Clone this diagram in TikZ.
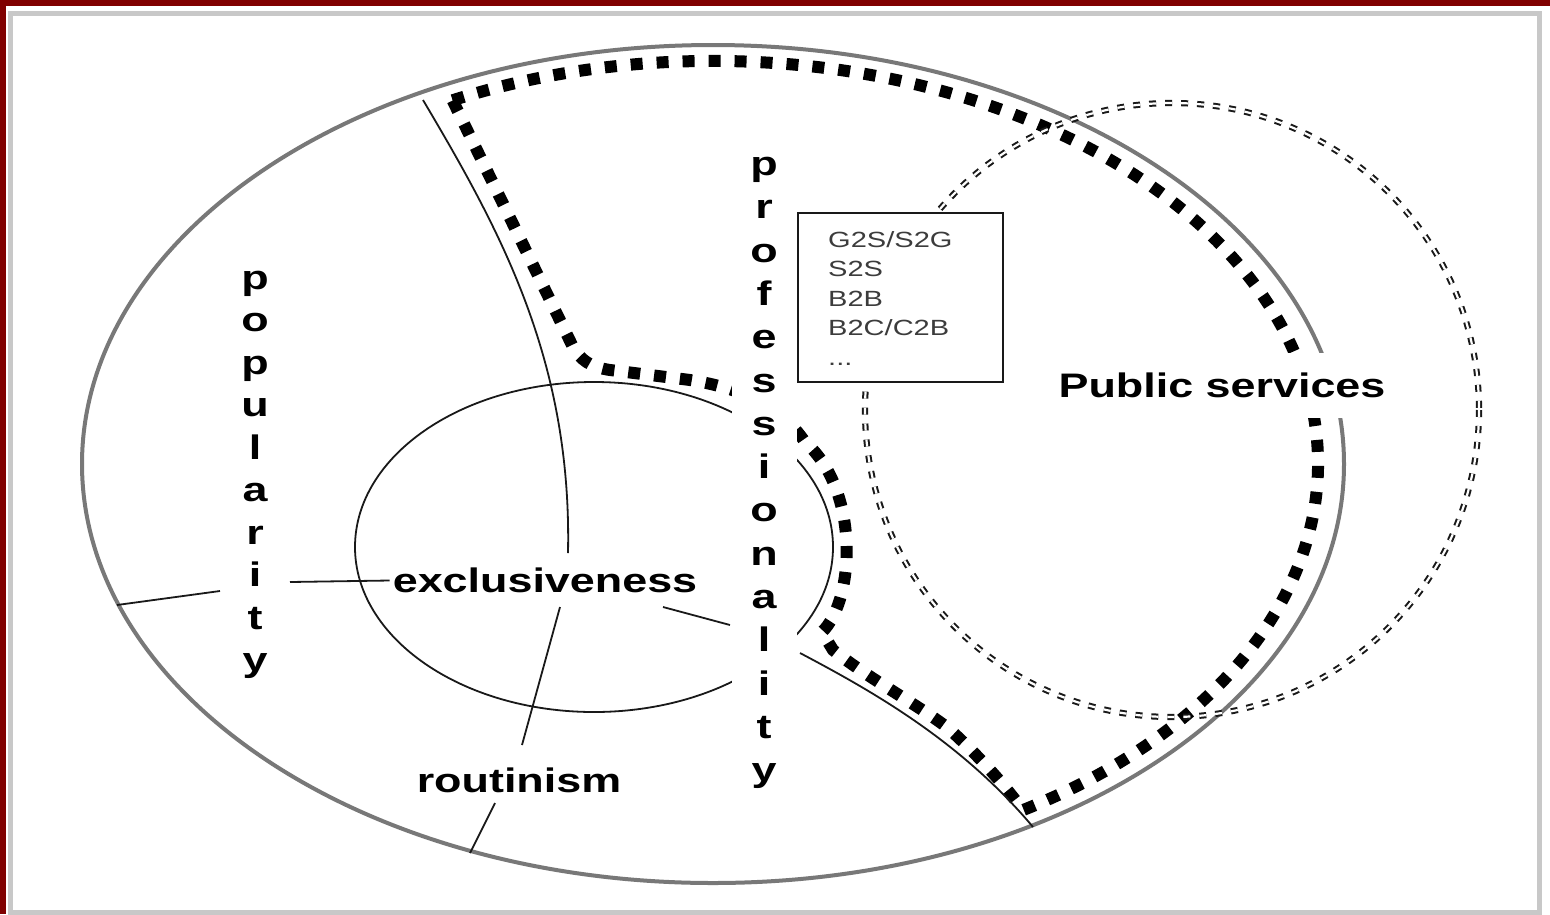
\documentclass[tikz,border=0pt]{standalone}
\usepackage{fontspec}
\newfontfamily\labfont[FakeStretch=1.32]{Liberation Sans}
\definecolor{framered}{RGB}{128,0,0}
\definecolor{ellgray}{RGB}{120,120,120}
\definecolor{panelgray}{RGB}{200,200,200}
\definecolor{inkgray}{RGB}{60,60,60}
\begin{document}
\begin{tikzpicture}[x=1pt,y=-1pt,
  bigell/.style={draw=ellgray, line width=4pt},
  thinline/.style={draw=black!90, line width=1.8pt},
  dotline/.style={draw=black, line width=12pt, dash pattern=on 12pt off 14pt},
  dblline/.style={draw=black!90, line width=2pt, double=white, double distance=2.2pt, dash pattern=on 7pt off 9pt},
  lbl/.style={font=\labfont\bfseries\fontsize{34}{40}\selectfont, text=black, inner sep=3pt},
  vlbl/.style={align=center, fill=white, inner sep=0pt, minimum width=65pt},
  listbox/.style={draw=black!90, line width=2pt, fill=white, minimum width=205pt, minimum height=169pt, inner sep=0pt},
  listtext/.style={align=left, font=\labfont\fontsize{22}{29.5}\selectfont, text=inkgray, inner sep=0pt}
]
\useasboundingbox (0,0) rectangle (1550,914);
% frame
\fill[framered] (0,0) rectangle (1550,914);
\fill[white] (6,6) rectangle (1550,914);
\draw[panelgray, line width=5pt] (10,13) rectangle (1539,912);

% big ellipse
\draw[bigell] (713,464) ellipse [x radius=631, y radius=419];
% inner ellipse
\draw[thinline] (594,547) ellipse [x radius=239, y radius=165];

% thick dotted region
\draw[dotline] (713,464) ++(-115.5:605 and 403)
  arc[start angle=-115.5, end angle=59.2, x radius=605, y radius=403]
  .. controls (1005,785) and (975,752) .. (948,728)
  .. controls (915,703) and (868,678) .. (833,650) -- (822,632)
  .. controls (855,600) and (860,490) .. (805,442)
  .. controls (780,405) and (740,388) .. (690,380) -- (610,370)
  .. controls (590,367) and (580,360) .. (572,345) -- cycle;

% double dashed circle
\draw[dblline] (1172,410) circle [radius=307];

% labels
\node[lbl] (excl) at (545,580.5) {exclusiveness};
\node[lbl] (rout) at (519,780) {routinism};
\node[lbl, fill=white, inner ysep=20pt, inner xsep=4pt] (pub) at (1222,385.5) {Public services};
\node[vlbl, font=\labfont\bfseries\fontsize{34}{42.5}\selectfont] (pop) at (255,475) {p\\o\\p\\u\\l\\a\\r\\i\\t\\y};
\node[vlbl, font=\labfont\bfseries\fontsize{34}{43.3}\selectfont] (prof) at (764,473) {p\\r\\o\\f\\e\\s\\s\\i\\o\\n\\a\\l\\i\\t\\y};

% list box
\node[listbox] (list) at (900.5,297.5) {};
\node[listtext, anchor=north west] (listtxt) at (828,231) {G2S/S2G\\S2S\\B2B\\B2C/C2B\\...};

% thin dividing lines
\draw[thinline] (423,100) .. controls (500,230) and (572,360) .. (568,553);
\draw[thinline] (560,607) -- (522,745);
\draw[thinline] (495,803) -- (470,853);
\draw[thinline] (117,605) -- (220,591);
\draw[thinline] (290,582) -- (excl.west);
\draw[thinline] (663,607) -- (730,625);
\draw[thinline] (800,653) .. controls (870,690) and (960,740) .. (1033,827);
\end{tikzpicture}
\end{document}
